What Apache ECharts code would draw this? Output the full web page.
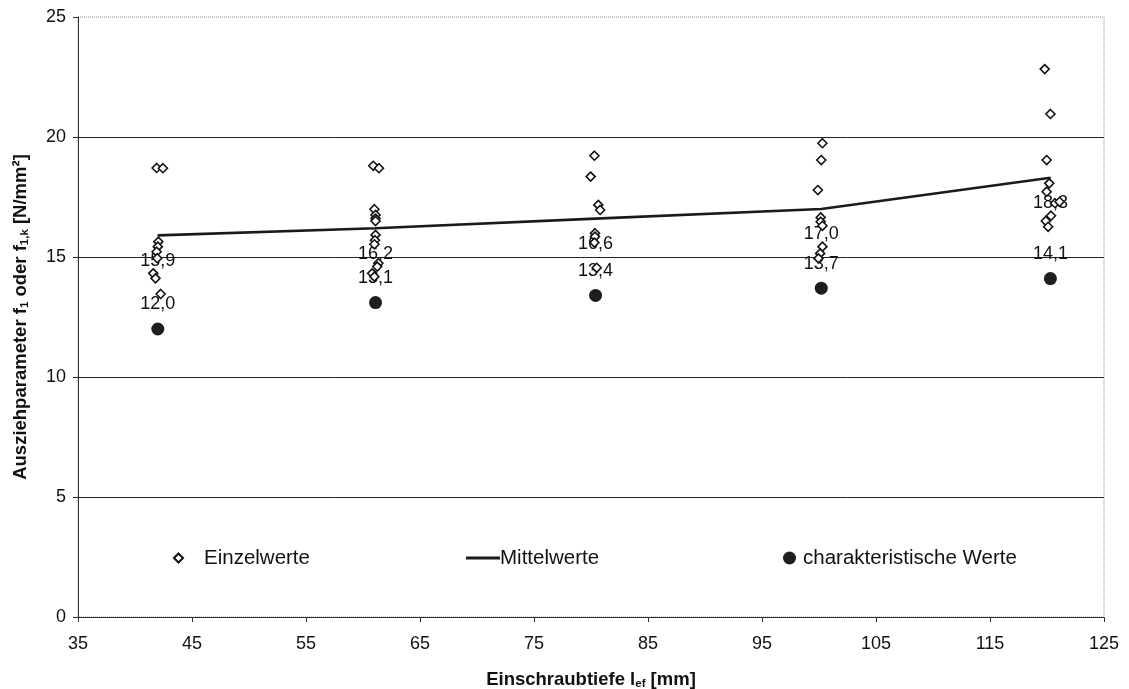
<!DOCTYPE html>
<html>
<head>
<meta charset="utf-8">
<script src="https://cdn.jsdelivr.net/npm/echarts@6/dist/echarts.min.js"></script>
<style>
  html, body { margin: 0; padding: 0; background: #fff; }
  #chart { width: 1129px; height: 689px; }
</style>
</head>
<body>
<div id="chart"></div>
<script>
// Pull-out parameter vs. screw-in depth
const xTicks = [35, 45, 55, 65, 75, 85, 95, 105, 115, 125];

// individual test results (depth in mm, value in N/mm²)
const singleDepth = [
  41.9, 42.45, 42.05, 42.0, 41.9, 41.95, 41.6, 41.8, 42.25,
  60.9, 61.4, 61.0, 61.1, 61.1, 61.1, 61.1, 61.05, 61.0, 61.35, 61.25, 60.8, 61.0,
  80.3, 79.97, 80.64, 80.8, 80.35, 80.35, 80.3, 80.5,
  100.3, 100.2, 99.9, 100.15, 100.15, 100.3, 100.3, 100.1, 99.95,
  119.8, 120.3, 119.97, 120.2, 119.97, 120.7, 121.1, 120.35, 119.9, 120.1
];
const singleValue = [
  18.71, 18.70, 15.64, 15.43, 15.22, 14.95, 14.32, 14.11, 13.46,
  18.80, 18.70, 16.99, 16.75, 16.60, 16.50, 15.92, 15.70, 15.53, 14.74, 14.60, 14.32, 14.18,
  19.22, 18.35, 17.17, 16.96, 15.99, 15.85, 15.60, 14.55,
  19.74, 19.04, 17.79, 16.65, 16.47, 16.30, 15.43, 15.15, 14.94,
  22.83, 20.96, 19.04, 18.07, 17.72, 17.24, 17.30, 16.72, 16.50, 16.26
];

// mean values and characteristic values per depth
const groupDepth = [42.0, 61.1, 80.4, 100.2, 120.3];
const meanValue = [15.9, 16.2, 16.6, 17.0, 18.3];
const charValue = [12.0, 13.1, 13.4, 13.7, 14.1];

const fmt = v => v.toFixed(1).replace('.', ',');
const font = 'Liberation Sans';
const ink = '#111';

const subStyle = {
  fontFamily: font, fontSize: 11.5, fontWeight: 'bold', color: ink,
  verticalAlign: 'bottom', lineHeight: 14, padding: [9, 0, 0, 0]
};

const chart = echarts.init(document.getElementById('chart'), null, { renderer: 'canvas' });

chart.setOption({
  backgroundColor: '#ffffff',
  animation: false,
  textStyle: { fontFamily: font, color: ink },
  grid: {
    left: 78, right: 25, top: 17, bottom: 72,
    containLabel: false, outerBoundsMode: 'none',
    show: true, borderColor: '#8a8a8a', borderWidth: 1, borderType: 'dotted'
  },
  legend: [
    {
      data: [{ name: 'Einzelwerte', icon: 'diamond' }],
      left: 168, top: 542, itemWidth: 9, itemHeight: 9,
      textStyle: { fontFamily: font, fontSize: 20.5, color: ink, padding: [0, 0, 0, 16], lineHeight: 22 }
    },
    {
      data: [{ name: 'Mittelwerte', icon: 'rect' }],
      left: 461, top: 542, itemWidth: 34, itemHeight: 3,
      textStyle: { fontFamily: font, fontSize: 20.5, color: ink, padding: [0, 0, 0, -5], lineHeight: 22 }
    },
    {
      data: [{ name: 'charakteristische Werte', icon: 'circle' }],
      left: 778, top: 542, itemWidth: 13, itemHeight: 13,
      textStyle: { fontFamily: font, fontSize: 20.5, color: ink, padding: [0, 0, 0, 2], lineHeight: 22 }
    }
  ],
  xAxis: {
    type: 'value',
    min: 35, max: 125,
    name: 'Einschraubtiefe l{sub|ef} [mm]',
    nameLocation: 'middle',
    nameGap: 53,
    nameTextStyle: {
      fontFamily: font, fontSize: 18.5, fontWeight: 'bold', color: ink, lineHeight: 20,
      rich: { sub: subStyle }
    },
    axisLine: { lineStyle: { color: '#333', width: 1 } },
    axisTick: { show: true, length: 5, customValues: xTicks, lineStyle: { color: '#333' } },
    axisLabel: { customValues: xTicks, margin: 18, fontFamily: font, fontSize: 18, color: ink },
    splitLine: { show: false }
  },
  yAxis: {
    type: 'value',
    min: 0, max: 25, interval: 5,
    name: 'Ausziehparameter f{sub|1} oder f{sub|1,k} [N/mm²]',
    nameLocation: 'middle',
    nameRotate: 90,
    nameGap: 47,
    nameTextStyle: {
      fontFamily: font, fontSize: 18.5, fontWeight: 'bold', color: ink, lineHeight: 20,
      rich: { sub: subStyle }
    },
    axisLine: { show: true, lineStyle: { color: '#333', width: 1 } },
    axisTick: { show: true, length: 5, lineStyle: { color: '#333' } },
    axisLabel: { margin: 12, fontFamily: font, fontSize: 18, color: ink },
    splitLine: { show: true, showMinLine: false, showMaxLine: false, lineStyle: { color: '#222', width: 1 } }
  },
  series: [
    {
      name: 'Mittelwerte',
      type: 'line',
      data: groupDepth.map((d, i) => [d, meanValue[i]]),
      symbol: 'circle',
      symbolSize: 1,
      itemStyle: { color: '#1a1a1a', opacity: 1 },
      lineStyle: { color: '#1a1a1a', width: 2.6 },
      label: {
        show: true, position: 'bottom', distance: 16,
        fontFamily: font, fontSize: 18, color: ink,
        formatter: p => fmt(p.value[1])
      },
      z: 2
    },
    {
      name: 'charakteristische Werte',
      type: 'scatter',
      data: groupDepth.map((d, i) => [d, charValue[i]]),
      symbol: 'circle',
      symbolSize: 13,
      itemStyle: { color: '#1e1e1e', opacity: 1 },
      label: {
        show: true, position: 'top', distance: 9,
        fontFamily: font, fontSize: 18, color: ink,
        formatter: p => fmt(p.value[1])
      },
      z: 3
    },
    {
      name: 'Einzelwerte',
      type: 'scatter',
      data: singleDepth.map((d, i) => [d, singleValue[i]]),
      symbol: 'diamond',
      symbolSize: 9,
      itemStyle: { color: '#fff', borderColor: ink, borderWidth: 1.6, opacity: 1 },
      z: 4
    }
  ]
});
</script>
</body>
</html>
